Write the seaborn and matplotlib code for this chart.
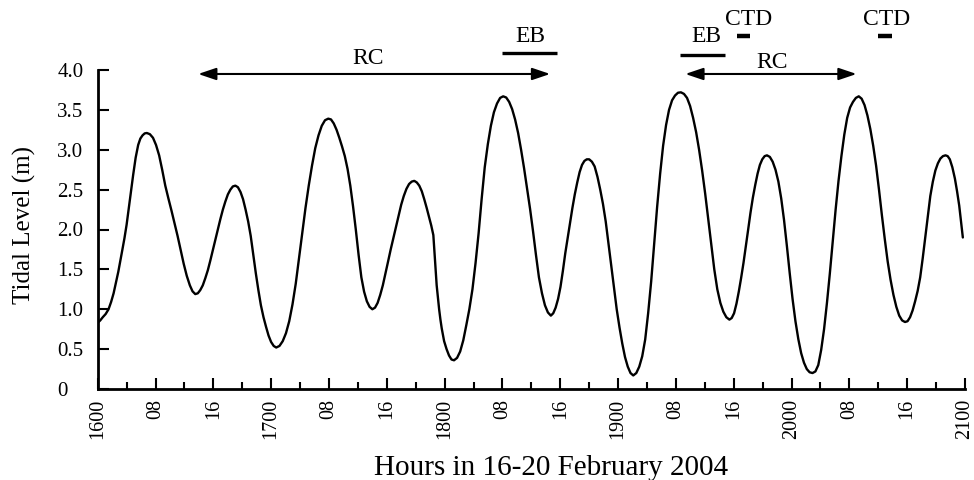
import matplotlib
matplotlib.use("Agg")
import matplotlib.pyplot as plt
import seaborn as sns
import pandas as pd
from matplotlib.ticker import FixedLocator, FixedFormatter

# ---- data (hours after 16 Feb 00:00, tidal level m) ----
hours = [0, 0.35, 0.7, 1.1, 1.5, 1.85, 2.2, 2.52, 2.85, 3.12, 3.4, 3.7, 4.0, 4.45,
         4.9, 5.25, 5.6, 5.9, 6.2, 6.5, 6.8, 7.22, 7.65, 8.07, 8.5, 8.92, 9.35,
         9.78, 10.2, 10.62, 11.05, 11.48, 11.9, 12.32, 12.75, 13.12, 13.5, 13.85,
         14.19, 14.54, 14.89, 15.24, 15.58, 15.93, 16.28, 16.62, 16.97, 17.32,
         17.66, 18.01, 18.36, 18.7, 19.05, 19.4, 19.76, 20.11, 20.46, 20.82,
         21.17, 21.52, 21.88, 22.23, 22.58, 22.94, 23.29, 23.64, 23.99, 24.35,
         24.7, 25.15, 25.6, 26.05, 26.5, 26.95, 27.4, 27.85, 28.3, 28.75, 29.2,
         29.65, 30.1, 30.55, 31.0, 31.45, 31.9, 32.28, 32.66, 33.05, 33.43, 33.81,
         34.19, 34.57, 34.95, 35.33, 35.71, 36.1, 36.48, 36.86, 37.24, 37.62,
         38.0, 38.37, 38.73, 39.09, 39.45, 39.82, 40.18, 40.54, 40.9, 41.27,
         41.63, 41.99, 42.35, 42.72, 43.08, 43.44, 43.8, 44.15, 44.49, 44.84,
         45.18, 45.52, 45.86, 46.15, 46.44, 46.65, 46.9, 47.07, 47.24, 47.42,
         47.6, 47.77, 47.93, 48.27, 48.61, 48.95, 49.3, 49.72, 50.15, 50.58,
         51.0, 51.42, 51.85, 52.28, 52.7, 53.12, 53.55, 53.98, 54.4, 54.82,
         55.25, 55.68, 56.1, 56.52, 56.93, 57.34, 57.75, 58.17, 58.58, 58.99,
         59.4, 59.82, 60.23, 60.64, 61.05, 61.47, 61.88, 62.29, 62.7, 63.03,
         63.36, 63.7, 64.03, 64.36, 64.69, 65.02, 65.35, 65.68, 66.01, 66.35,
         66.68, 67.01, 67.34, 67.67, 68.0, 68.38, 68.76, 69.15, 69.53, 69.91,
         70.29, 70.67, 71.05, 71.43, 71.81, 72.2, 72.58, 72.96, 73.34, 73.72,
         74.1, 74.52, 74.93, 75.34, 75.75, 76.16, 76.58, 76.99, 77.4, 77.82,
         78.23, 78.64, 79.05, 79.47, 79.88, 80.29, 80.7, 81.12, 81.54, 81.96,
         82.38, 82.8, 83.21, 83.63, 84.05, 84.47, 84.89, 85.31, 85.73, 86.15,
         86.56, 86.98, 87.4, 87.72, 88.05, 88.38, 88.7, 89.02, 89.35, 89.68,
         90.0, 90.32, 90.65, 90.98, 91.3, 91.62, 91.95, 92.28, 92.6, 93.0,
         93.39, 93.78, 94.18, 94.57, 94.96, 95.36, 95.75, 96.14, 96.54, 96.94,
         97.33, 97.72, 98.11, 98.5, 98.9, 99.3, 99.7, 100.1, 100.5, 100.9,
         101.3, 101.7, 102.1, 102.5, 102.9, 103.3, 103.7, 104.1, 104.5, 104.9,
         105.3, 105.7, 106.1, 106.5, 106.9, 107.3, 107.7, 108.1, 108.5, 108.9,
         109.3, 109.7, 110.1, 110.5, 110.9, 111.3, 111.7, 112.05, 112.4, 112.75,
         113.1, 113.45, 113.8, 114.15, 114.5, 114.85, 115.2, 115.55, 115.9,
         116.25, 116.6, 116.95, 117.3, 117.6, 117.9, 118.25, 118.6, 118.9,
         119.2, 119.45, 119.7]
level = [0.83, 0.86, 0.90, 0.94, 1.00, 1.09, 1.20, 1.33, 1.47, 1.60, 1.74, 1.89, 2.06, 2.37,
         2.68, 2.90, 3.06, 3.14, 3.18, 3.205, 3.21, 3.195, 3.15, 3.06, 2.93, 2.75, 2.55,
         2.39, 2.24, 2.08, 1.92, 1.74, 1.57, 1.42, 1.30, 1.225, 1.19, 1.20,
         1.24, 1.30, 1.39, 1.49, 1.61, 1.74, 1.87, 2.00, 2.13, 2.25,
         2.35, 2.44, 2.50, 2.54, 2.55, 2.53, 2.47, 2.38, 2.25, 2.10,
         1.92, 1.69, 1.45, 1.24, 1.05, 0.90, 0.78, 0.67, 0.59, 0.54,
         0.52, 0.54, 0.60, 0.70, 0.85, 1.06, 1.32, 1.64, 1.97, 2.27, 2.55,
         2.80, 3.02, 3.18, 3.30, 3.37, 3.39, 3.38, 3.33, 3.25, 3.15, 3.04,
         2.92, 2.76, 2.55, 2.29, 2.00, 1.68, 1.40, 1.22, 1.10, 1.03,
         1.00, 1.02, 1.08, 1.18, 1.30, 1.45, 1.60, 1.75, 1.89, 2.04,
         2.18, 2.31, 2.42, 2.51, 2.57, 2.60, 2.61, 2.59, 2.55, 2.48,
         2.38, 2.27, 2.15, 2.05, 1.93, 1.65, 1.30, 1.15, 1.00, 0.87,
         0.76, 0.68, 0.60, 0.50, 0.42, 0.37, 0.36, 0.39, 0.47, 0.61,
         0.80, 1.00, 1.25, 1.58, 1.95, 2.38, 2.78, 3.07, 3.30, 3.47,
         3.58, 3.65, 3.67, 3.655, 3.60, 3.51, 3.38, 3.21, 3.00, 2.77,
         2.52, 2.26, 1.98, 1.68, 1.40, 1.20, 1.05, 0.96, 0.92, 0.95,
         1.02, 1.13, 1.28, 1.48, 1.70, 1.89, 2.08, 2.27, 2.44, 2.59,
         2.72, 2.81, 2.86, 2.88, 2.88, 2.85, 2.79, 2.66, 2.50, 2.32,
         2.10, 1.83, 1.55, 1.27, 1.00, 0.77, 0.57, 0.40, 0.28, 0.20,
         0.17, 0.20, 0.28, 0.41, 0.62, 0.95, 1.35, 1.81, 2.28, 2.70,
         3.05, 3.31, 3.50, 3.62, 3.68, 3.715, 3.72, 3.70, 3.65, 3.55,
         3.40, 3.22, 3.00, 2.74, 2.45, 2.13, 1.80, 1.50, 1.25, 1.08,
         0.97, 0.90, 0.87, 0.89, 0.95, 1.07, 1.22, 1.39, 1.58, 1.79,
         2.00, 2.21, 2.40, 2.56, 2.70, 2.81, 2.88, 2.92, 2.93, 2.91,
         2.85, 2.75, 2.60, 2.39, 2.12, 1.79, 1.45, 1.13, 0.85, 0.625,
         0.45, 0.33, 0.25, 0.21, 0.20, 0.22, 0.30, 0.49, 0.75, 1.08,
         1.45, 1.85, 2.25, 2.61, 2.92, 3.19, 3.40, 3.53, 3.60, 3.65,
         3.67, 3.64, 3.56, 3.43, 3.26, 3.05, 2.80, 2.50, 2.18, 1.88,
         1.60, 1.37, 1.18, 1.03, 0.92, 0.86, 0.84, 0.85, 0.90, 0.985,
         1.10, 1.23, 1.40, 1.64, 1.90, 2.17, 2.42, 2.60, 2.74,
         2.83, 2.89, 2.92, 2.93, 2.92, 2.88, 2.78, 2.64, 2.48,
         2.30, 2.10, 1.90]

x_ticks = [0, 8, 16, 24, 32, 40, 48, 56, 64, 72, 80, 88, 96, 104, 112, 120]
x_tick_labels = ["1600", "08", "16", "1700", "08", "16", "1800", "08", "16",
                 "1900", "08", "16", "2000", "08", "16", "2100"]
x_minor = [4, 12, 20, 28, 36, 44, 52, 60, 68, 76, 84, 92, 100, 108, 116]
y_ticks = [0, 0.5, 1.0, 1.5, 2.0, 2.5, 3.0, 3.5, 4.0]
y_tick_labels = ["0", "0.5", "1.0", "1.5", "2.0", "2.5", "3.0", "3.5", "4.0"]

# measurement periods (hours)
rc_spans = [(13.9, 62.6), (81.3, 105.0)]
rc_label_x = [37.45, 93.3]
eb_spans = [(56.0, 63.5), (80.6, 86.8)]
eb_label_x = [59.8, 84.2]
ctd_spans = [(88.4, 90.3), (108.0, 109.9)]
ctd_label_x = [90.05, 109.2]

# ---- styling ----
sns.set_style("ticks")
plt.rcParams["font.family"] = ["Liberation Serif", "DejaVu Serif"]
plt.rcParams["text.color"] = "black"
plt.rcParams["xtick.color"] = "black"
plt.rcParams["ytick.color"] = "black"
plt.rcParams["axes.labelcolor"] = "black"

W, H = 974, 480
fig = plt.figure(figsize=(W / 100, H / 100), dpi=100)
ax = fig.add_axes([97.7 / W, 1 - 389 / H, (965 - 97.7) / W, (389 - 70) / H])

df = pd.DataFrame({"hour": hours, "level": level})
sns.lineplot(data=df, x="hour", y="level", ax=ax, color="black", lw=1.7,
             sort=False, estimator=None)
for ln in ax.get_lines():
    ln.set_solid_joinstyle("round")

ax.set_xlim(0, 120)
ax.set_ylim(0, 4.0)
for s in ["top", "right"]:
    ax.spines[s].set_visible(False)
for s in ["left", "bottom"]:
    ax.spines[s].set_linewidth(2.0)
    ax.spines[s].set_color("black")

ax.xaxis.set_major_locator(FixedLocator(x_ticks))
ax.xaxis.set_major_formatter(FixedFormatter(x_tick_labels))
ax.xaxis.set_minor_locator(FixedLocator(x_minor))
ax.yaxis.set_major_locator(FixedLocator(y_ticks))
ax.yaxis.set_major_formatter(FixedFormatter(y_tick_labels))
ax.tick_params(axis="x", which="major", direction="in", length=8, width=1.5,
               labelsize=14.5, pad=7, labelrotation=90, colors="black")
ax.tick_params(axis="x", which="minor", direction="in", length=5, width=1.5)
ax.tick_params(axis="y", which="major", direction="in", length=8, width=1.5,
               labelsize=15, pad=29, colors="black")
for lab in ax.get_yticklabels():
    lab.set_horizontalalignment("left")
ax.set_xlabel("")
ax.set_ylabel("")

fig.text(551.5 / W, 1 - 475 / H, "Hours in 16-20 February 2004", ha="center",
         va="baseline", fontsize=21)
fig.text(24 / W, 1 - 225 / H, "Tidal Level (m)", ha="center", va="center",
         rotation=90, fontsize=18)

# ---- annotations ----
arrow_kw = dict(arrowstyle="<|-|>,head_length=0.8,head_width=0.27", color="black",
                lw=1.5, mutation_scale=13.5, shrinkA=0, shrinkB=0)
rc_levels = [3.95, 3.95]
rc_text_levels = [4.075, 4.02]
for (a, b), lx, lv, tv in zip(rc_spans, rc_label_x, rc_levels, rc_text_levels):
    ax.annotate("", xy=(b, lv), xytext=(a, lv), arrowprops=arrow_kw,
                annotation_clip=False)
    ax.text(lx, tv, "RC", ha="center", va="baseline", fontsize=17, clip_on=False)

eb_levels = [4.21, 4.19]
for (a, b), lx, lv in zip(eb_spans, eb_label_x, eb_levels):
    ax.plot([a, b], [lv, lv], color="black", lw=2.4, clip_on=False,
            solid_capstyle="butt")
    ax.text(lx, 4.355, "EB", ha="center", va="baseline", fontsize=17, clip_on=False)

for (a, b), lx in zip(ctd_spans, ctd_label_x):
    ax.plot([a, b], [4.43, 4.43], color="black", lw=3.2, clip_on=False,
            solid_capstyle="butt")
    ax.text(lx, 4.565, "CTD", ha="center", va="baseline", fontsize=17, clip_on=False)

fig.savefig("out.png", dpi=100)
